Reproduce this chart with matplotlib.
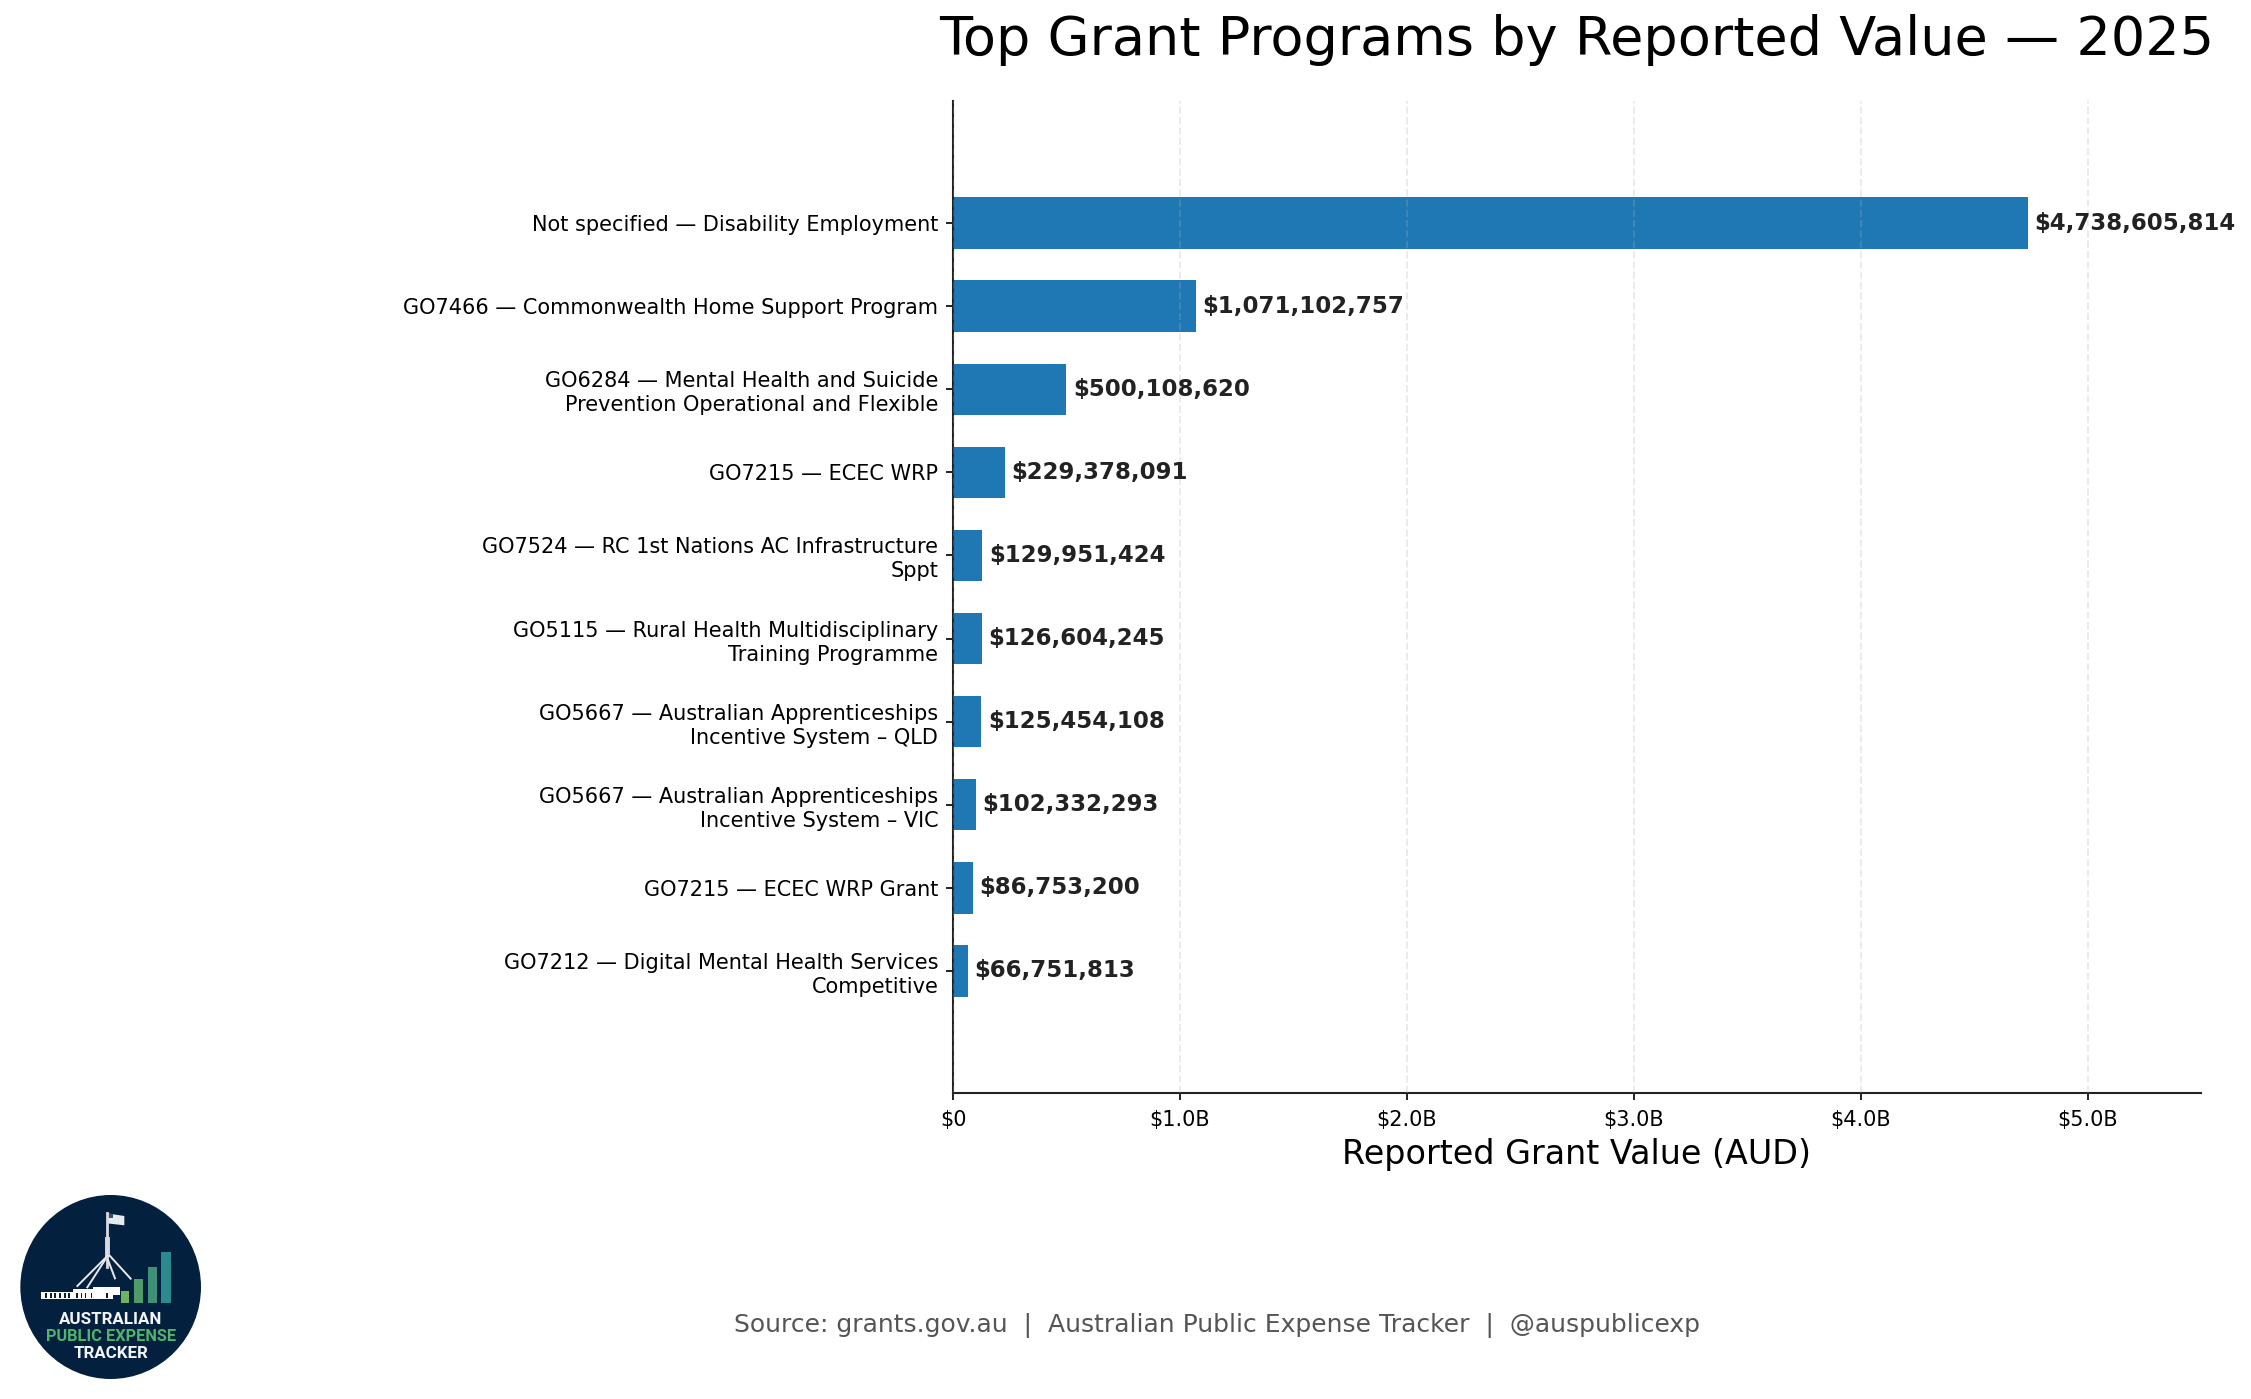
import matplotlib
matplotlib.use('Agg')
import matplotlib.pyplot as plt
from matplotlib.patches import Ellipse, Polygon, Rectangle
from matplotlib.ticker import FuncFormatter

# Grant programs, largest first
programs = [
    'Not specified — Disability Employment',
    'GO7466 — Commonwealth Home Support Program',
    'GO6284 — Mental Health and Suicide\nPrevention Operational and Flexible',
    'GO7215 — ECEC WRP',
    'GO7524 — RC 1st Nations AC Infrastructure\nSppt',
    'GO5115 — Rural Health Multidisciplinary\nTraining Programme',
    'GO5667 — Australian Apprenticeships\nIncentive System – QLD',
    'GO5667 — Australian Apprenticeships\nIncentive System – VIC',
    'GO7215 — ECEC WRP Grant',
    'GO7212 — Digital Mental Health Services\nCompetitive',
]
values = [4738605814, 1071102757, 500108620, 229378091, 129951424,
          126604245, 125454108, 102332293, 86753200, 66751813]
x_ticks = [0, 1e9, 2e9, 3e9, 4e9, 5e9]

W, H = 2251, 1399
fig = plt.figure(figsize=(W / 200, H / 200), dpi=200)

# Axes placed to match the pixel layout
ax = fig.add_axes([953 / W, 1 - 1093 / H, (2201 - 953) / W, (1093 - 101) / H])
positions = list(range(len(values)))
ax.barh(positions, values, height=0.62, color='#1f77b4', zorder=2)
ax.set_yticks(positions)
ax.set_yticklabels(programs, fontsize=7.5, linespacing=1.25)
ax.set_ylim(len(values) - 1 + 1.47, -1.47)
ax.set_xlim(0, 5.5e9)
ax.set_xticks(x_ticks)


def money(v, pos):
    return '$0' if v == 0 else f'${v / 1e9:.1f}B'


ax.xaxis.set_major_formatter(FuncFormatter(money))
ax.tick_params(axis='x', labelsize=7.5, width=0.7, length=2.5, color='#222222')
ax.tick_params(axis='y', width=0.7, length=2.5, pad=2.8, color='#222222')
ax.grid(axis='x', linestyle='--', linewidth=0.7, alpha=0.25, zorder=3)
ax.set_axisbelow(False)
ax.spines['top'].set_visible(False)
ax.spines['right'].set_visible(False)
for side in ['left', 'bottom']:
    ax.spines[side].set_color('#222222')
    ax.spines[side].set_linewidth(0.75)

for pos, val in zip(positions, values):
    ax.annotate(f'${val:,.0f}', (val, pos), xytext=(2.3, 0), textcoords='offset points',
                va='center', ha='left', fontsize=8.25, fontweight='bold',
                color='#222222', annotation_clip=False, zorder=4)

ax.set_title('Top Grant Programs by Reported Value — 2025', fontsize=19.5, pad=16.4)
ax.set_xlabel('Reported Grant Value (AUD)', fontsize=12, labelpad=3)

fig.text(1217 / W, 1 - 1325 / H, 'Source: grants.gov.au  |  Australian Public Expense Tracker  |  @auspublicexp',
         ha='center', va='center', fontsize=9, color='#555555')

# Logo, drawn in a small axes using zoomed crop coordinates
logo = fig.add_axes([0, 0, 230 / W, 219 / H])
logo.set_xlim(0, 690)
logo.set_ylim(657, 0)
logo.axis('off')
logo.add_patch(Ellipse((332, 321), 542, 552, color='#04203f', lw=0))

# bar icons
logo_bars = [(362, 388, 332, '#6db45f'), (402, 429, 296, '#4f9c68'),
             (443, 471, 260, '#409078'), (484, 513, 217, '#2a8a8e')]
for x0, x1, top, c in logo_bars:
    logo.add_patch(Rectangle((x0, top), x1 - x0, 368 - top, color=c, lw=0))

# parliament house
logo.add_patch(Rectangle((123, 335), 95, 22, color='white', lw=0))
logo.add_patch(Rectangle((218, 326), 62, 31, color='white', lw=0))
logo.add_patch(Rectangle((280, 322), 80, 35, color='white', lw=0))
logo.add_patch(Rectangle((340, 344), 20, 13, color='#04203f', lw=0))
for bx in [135, 150, 163, 178, 192, 205, 228, 242, 254, 272, 318]:
    logo.add_patch(Rectangle((bx, 340), 5, 14, color='#04203f', lw=0))

# flag mast
logo.add_patch(Rectangle((314, 170), 16, 62, color='#c9ced6', lw=0))
logo.plot([321, 321], [100, 260], color='#d8dce2', lw=1.0)
for sx, sy, ex, ey in [(322, 228, 232, 318), (315, 240, 262, 322),
                       (324, 240, 345, 295), (330, 228, 392, 296)]:
    logo.plot([sx, ex], [sy, ey], color='#e8eaee', lw=0.7)
logo.add_patch(Polygon([(321, 100), (373, 108), (373, 136), (321, 130)], color='#e6e9ee', lw=0))
logo.add_patch(Rectangle((322, 102), 18, 12, color='#3a4d70', lw=0))

logo.text(332, 417, 'AUSTRALIAN', ha='center', va='center', fontsize=6.1,
          fontweight='bold', family='Roboto', color='#f2f4f6')
logo.text(332, 470, 'PUBLIC EXPENSE', ha='center', va='center', fontsize=5.9,
          fontweight='bold', family='Roboto', color='#4fb56a')
logo.text(332, 522, 'TRACKER', ha='center', va='center', fontsize=6.1,
          fontweight='bold', family='Roboto', color='#f2f4f6')

fig.savefig('out.png', dpi=200)
